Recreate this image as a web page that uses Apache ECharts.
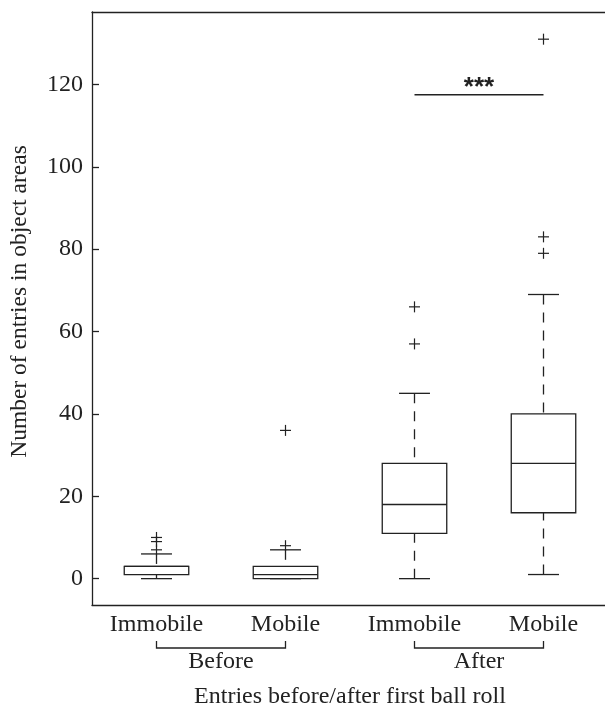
<!DOCTYPE html>
<html>
<head>
<meta charset="utf-8">
<script src="https://cdn.jsdelivr.net/npm/echarts@6/dist/echarts.min.js"></script>
<style>
  html, body { margin: 0; padding: 0; background: #fff; }
  #chart { width: 605px; height: 706px; }
</style>
</head>
<body>
<div id="chart"></div>
<script>
// categories and groups
var categories = ['Immobile', 'Mobile', 'Immobile', 'Mobile'];
var groups = ['Before', 'After'];
var groupSpans = [[0, 1], [2, 3]];

// [category, min, Q1, median, Q3, max]
var boxStats = [
  [0, 0, 1, 3, 3, 6],
  [1, 0, 0, 1, 3, 7],
  [2, 0, 11, 18, 28, 45],
  [3, 1, 16, 28, 40, 69]
];

// [category, value]
var outliers = [
  [0, 7], [0, 9], [0, 10],
  [1, 8], [1, 36],
  [2, 57], [2, 66],
  [3, 79], [3, 83], [3, 131]
];

// significance bar: [from, to, level]
var sigBars = [[2, 3, 117.5]];
var sigLabels = ['***'];

var yTicks = [0, 20, 40, 60, 80, 100, 120];
var yMin = -6.4;
var yMax = 137.6;

var ink = '#222';
var serif = 'Liberation Serif';
var fs = 24;

var chart = echarts.init(document.getElementById('chart'));

var option = {
  animation: false,
  grid: { left: 92, top: 12, right: -3, bottom: 101, outerBoundsMode: 'none', containLabel: false },
  xAxis: [
    {
      type: 'category',
      data: categories,
      position: 'bottom',
      axisLine: { onZero: false, lineStyle: { color: ink, width: 1.3 } },
      axisTick: { inside: true, length: 7, alignWithLabel: true, lineStyle: { color: ink, width: 1.3 } },
      axisLabel: { color: ink, fontFamily: serif, fontSize: fs, margin: 8 },
      splitLine: { show: false },
      name: 'Entries before/after first ball roll',
      nameLocation: 'middle',
      nameGap: 80,
      nameTextStyle: { color: ink, fontFamily: serif, fontSize: fs }
    },
    {
      type: 'category',
      data: categories,
      position: 'top',
      axisLine: { onZero: false, lineStyle: { color: ink, width: 1.3 } },
      axisTick: { show: false },
      axisLabel: { show: false }
    }
  ],
  yAxis: {
    type: 'value',
    min: yMin,
    max: yMax,
    axisLine: { show: true, onZero: false, lineStyle: { color: ink, width: 1.3 } },
    axisTick: { show: true, inside: true, length: 7, customValues: yTicks, lineStyle: { color: ink, width: 1.3 } },
    axisLabel: { color: ink, fontFamily: serif, fontSize: fs, margin: 9, customValues: yTicks },
    splitLine: { show: false },
    name: 'Number of entries in object areas',
    nameLocation: 'middle',
    nameGap: 60,
    nameTextStyle: { color: ink, fontFamily: serif, fontSize: 23.5, padding: [0, 0, 0, 14] }
  },
  series: [
    {
      name: 'boxes',
      type: 'custom',
      data: boxStats,
      encode: { x: 0, y: [1, 2, 3, 4, 5] },
      renderItem: function (params, api) {
        var c = api.value(0);
        var band = api.size([1, 0])[0];
        var half = band * 0.25;
        var cap = band * 0.12;
        var lo = api.coord([c, api.value(1)]);
        var q1 = api.coord([c, api.value(2)]);
        var med = api.coord([c, api.value(3)]);
        var q3 = api.coord([c, api.value(4)]);
        var hi = api.coord([c, api.value(5)]);
        var x = lo[0];
        var solid = { stroke: ink, lineWidth: 1.3, fill: null };
        var dashed = { stroke: ink, lineWidth: 1.3, lineDash: [10, 8] };
        return {
          type: 'group',
          children: [
            { type: 'line', shape: { x1: x, y1: hi[1], x2: x, y2: q3[1] }, style: dashed },
            { type: 'line', shape: { x1: x, y1: lo[1], x2: x, y2: q1[1] }, style: dashed },
            { type: 'line', shape: { x1: x - cap, y1: hi[1], x2: x + cap, y2: hi[1] }, style: solid },
            { type: 'line', shape: { x1: x - cap, y1: lo[1], x2: x + cap, y2: lo[1] }, style: solid },
            { type: 'rect', shape: { x: x - half, y: q3[1], width: half * 2, height: q1[1] - q3[1] }, style: { stroke: ink, lineWidth: 1.3, fill: '#fff' } },
            { type: 'line', shape: { x1: x - half, y1: med[1], x2: x + half, y2: med[1] }, style: solid }
          ]
        };
      }
    },
    {
      name: 'outliers',
      type: 'custom',
      data: outliers,
      encode: { x: 0, y: 1 },
      renderItem: function (params, api) {
        var p = api.coord([api.value(0), api.value(1)]);
        var s = 5.5;
        var st = { stroke: ink, lineWidth: 1.2 };
        return {
          type: 'group',
          children: [
            { type: 'line', shape: { x1: p[0] - s, y1: p[1], x2: p[0] + s, y2: p[1] }, style: st },
            { type: 'line', shape: { x1: p[0], y1: p[1] - s, x2: p[0], y2: p[1] + s }, style: st }
          ]
        };
      }
    },
    {
      name: 'significance',
      type: 'custom',
      data: sigBars,
      encode: { x: [0, 1], y: 2 },
      renderItem: function (params, api) {
        var a = api.coord([api.value(0), api.value(2)]);
        var b = api.coord([api.value(1), api.value(2)]);
        return {
          type: 'group',
          children: [
            { type: 'line', shape: { x1: a[0], y1: a[1], x2: b[0], y2: b[1] }, style: { stroke: ink, lineWidth: 1.3 } },
            {
              type: 'text',
              style: {
                x: (a[0] + b[0]) / 2, y: a[1] - 7,
                text: sigLabels[params.dataIndex],
                fill: ink, font: 'bold 26px "Liberation Sans"',
                align: 'center', verticalAlign: 'middle'
              }
            }
          ]
        };
      }
    },
    {
      name: 'groups',
      type: 'custom',
      data: groupSpans,
      encode: { x: [0, 1] },
      clip: false,
      renderItem: function (params, api) {
        var base = params.coordSys.y + params.coordSys.height;
        var a = api.coord([api.value(0), 0])[0];
        var b = api.coord([api.value(1), 0])[0];
        return {
          type: 'group',
          children: [
            {
              type: 'polyline',
              shape: { points: [[a, base + 36], [a, base + 43], [b, base + 43], [b, base + 36]] },
              style: { stroke: ink, lineWidth: 1.3, fill: null }
            },
            {
              type: 'text',
              style: {
                x: (a + b) / 2, y: base + 57,
                text: groups[params.dataIndex],
                fill: ink, font: fs + 'px "Liberation Serif"',
                align: 'center', verticalAlign: 'middle'
              }
            }
          ]
        };
      }
    }
  ]
};

chart.setOption(option);
</script>
</body>
</html>
